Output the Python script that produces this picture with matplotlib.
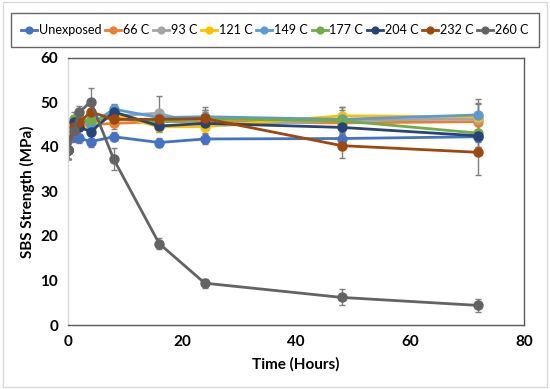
import numpy as np
import matplotlib.pyplot as plt
from matplotlib.patches import Rectangle

hours = [0, 1, 2, 4, 8, 16, 24, 48, 72]

labels = ["Unexposed", "66 C", "93 C", "121 C", "149 C", "177 C", "204 C", "232 C", "260 C"]
colors = ["#4472C4", "#ED7D31", "#A5A5A5", "#FFC000", "#5B9BD5",
          "#70AD47", "#264478", "#9E480E", "#636363"]

unexposed = [39.4, 42.3, 42.0, 41.2, 42.3, 41.0, 41.8, 41.9, 42.3]
c66 = [39.4, 43.5, 45.0, 45.0, 45.3, 45.7, 45.7, 45.4, 45.7]
c93 = [39.4, 44.5, 45.5, 45.5, 47.0, 47.6, 44.7, 46.0, 46.3]
c121 = [39.4, 45.0, 44.5, 44.2, 47.3, 44.5, 44.6, 47.0, 46.8]
c149 = [39.4, 45.5, 46.5, 45.0, 48.5, 46.6, 46.8, 46.2, 47.2]
c177 = [39.4, 46.3, 46.0, 46.1, 46.4, 45.6, 46.3, 45.9, 43.1]
c204 = [39.4, 45.5, 44.5, 43.4, 47.9, 44.7, 45.3, 44.4, 42.5]
c232 = [39.4, 44.5, 45.5, 47.9, 46.2, 46.2, 46.4, 40.3, 38.8]
c260 = [39.4, 43.5, 47.8, 50.2, 37.3, 18.3, 9.4, 6.2, 4.4]

err_unexposed = [2.0, 1.2, 1.0, 1.2, 1.0, 1.0, 1.2, 1.0, 1.2]
err_c66 = [2.0, 1.5, 1.5, 1.5, 1.2, 1.2, 1.5, 1.5, 2.0]
err_c93 = [2.0, 1.5, 1.5, 2.0, 1.5, 3.8, 3.5, 3.0, 4.5]
err_c121 = [2.0, 1.5, 1.5, 1.5, 1.2, 1.2, 1.5, 2.0, 3.0]
err_c149 = [2.0, 1.5, 1.5, 1.5, 1.2, 1.2, 1.5, 1.5, 2.5]
err_c177 = [2.0, 1.5, 1.5, 1.5, 1.2, 1.2, 1.5, 2.5, 3.0]
err_c204 = [2.0, 1.5, 1.5, 1.5, 1.5, 1.2, 1.5, 2.0, 2.5]
err_c232 = [2.0, 1.5, 1.5, 1.5, 1.2, 1.2, 2.5, 2.8, 5.0]
err_c260 = [2.0, 2.0, 1.5, 3.0, 2.5, 1.2, 1.0, 1.8, 1.4]

series = [unexposed, c66, c93, c121, c149, c177, c204, c232, c260]
errors = [err_unexposed, err_c66, err_c93, err_c121, err_c149,
          err_c177, err_c204, err_c232, err_c260]

plt.rcParams['font.family'] = ['Lato', 'DejaVu Sans']

fig = plt.figure(figsize=(5.5, 3.89), dpi=100)
ax = fig.add_axes([0.1236, 0.1645, 0.829, 0.6865])

handles = []
for vals, errs, lab, col in zip(series, errors, labels, colors):
	cont = ax.errorbar(
		hours, vals, yerr=errs,
		color=col, ecolor="#7F7F7F", elinewidth=1, capsize=2.5, capthick=1,
		linewidth=2, marker='o', markersize=6.5, label=lab
	)
	handles.append(cont[0])

ax.set_xlim(0, 80)
ax.set_ylim(0, 60)
ax.set_xticks(np.arange(0, 81, 20))
ax.set_yticks(np.arange(0, 61, 10))
ax.tick_params(length=0, labelsize=11, pad=7)
for t in ax.get_xticklabels() + ax.get_yticklabels():
	t.set_fontweight('bold')
for s in ax.spines.values():
	s.set_color("#595959")
	s.set_linewidth(1)
ax.spines['left'].set_color("#D9D9D9")

ax.set_xlabel("Time (Hours)", fontsize=11, fontweight='bold', labelpad=6)
ax.set_ylabel("SBS Strength (MPa)", fontsize=11, fontweight='bold', labelpad=4)

leg = fig.legend(
	handles, labels,
	loc='center', bbox_to_anchor=(0.5, 0.923), ncol=9, fontsize=9.1,
	handlelength=1.25, handletextpad=0.15, columnspacing=0.3,
	frameon=True, fancybox=False, borderpad=0.85, markerscale=0.75
)
leg.get_frame().set_edgecolor("#404040")
leg.get_frame().set_linewidth(1)

fig.patches.append(Rectangle((0.006, 0.006), 0.988, 0.988, transform=fig.transFigure,
	fill=False, edgecolor="#D9D9D9", linewidth=1))

fig.savefig("out.png", dpi=100)
